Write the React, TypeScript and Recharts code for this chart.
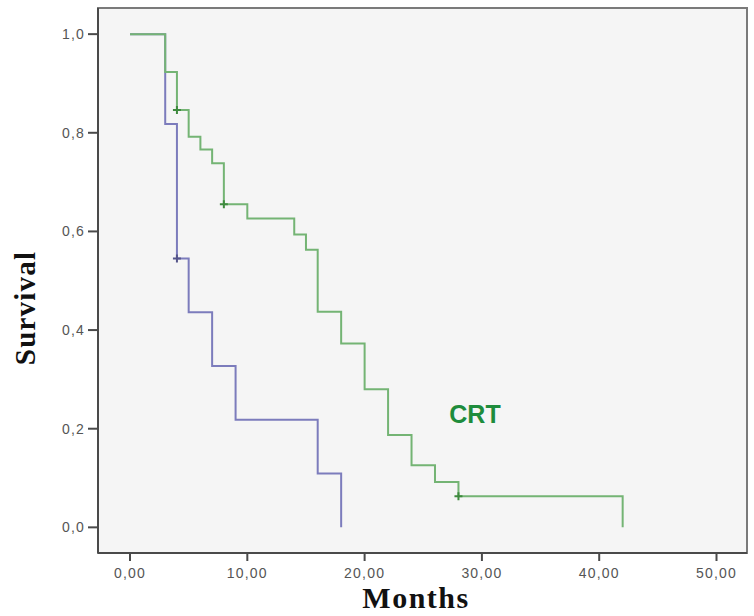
import { LineChart, Line, XAxis, YAxis, CartesianGrid, ReferenceArea } from 'recharts';

// Kaplan-Meier steps (months, survival, censored flag)
const rtMonths = [0, 3, 4, 5, 7, 9, 16, 18];
const rtSurvival = [1, 0.818, 0.545, 0.436, 0.327, 0.218, 0.109, 0];
const rtCensored = [false, false, true, false, false, false, false, false];

const crtMonths = [0, 3, 4, 5, 6, 7, 8, 10, 14, 15, 16, 18, 20, 22, 24, 26, 28, 42];
const crtSurvival = [1, 0.923, 0.846, 0.792, 0.766, 0.738, 0.655, 0.626, 0.594, 0.563, 0.437, 0.373, 0.28, 0.187, 0.126, 0.092, 0.063, 0];
const crtCensored = [false, false, true, false, false, false, true, false, false, false, false, false, false, false, false, false, true, false];

const xTicks = [0, 10, 20, 30, 40, 50];
const yTicks = [0, 0.2, 0.4, 0.6, 0.8, 1.0];

const xDomain = [-2.73, 52.6];
const yDomain = [-0.052, 1.053];

const rtData = rtMonths.map((t, i) => ({ t, s: rtSurvival[i], c: rtCensored[i] }));
const crtData = crtMonths.map((t, i) => ({ t, s: crtSurvival[i], c: crtCensored[i] }));

const axisColor = '#4a4a4a';
const tickStyle = { fill: '#555', fontSize: 14, fontFamily: 'Liberation Sans, Arial, sans-serif', letterSpacing: 1.2 };

const censorDot = (color: string) => (props: any) => {
  const { cx, cy, payload, index } = props;
  if (!payload || !payload.c) return <g key={`n-${index}`} />;
  return (
    <path
      key={`c-${index}`}
      d={`M${cx - 4},${cy} H${cx + 4} M${cx},${cy - 4} V${cy + 4}`}
      stroke={color}
      strokeWidth={2}
      fill="none"
    />
  );
};

export default function App() {
  return (
    <div style={{ width: 754, height: 616, background: '#fff' }}>
      <style>{'body{margin:0}'}</style>
      <LineChart width={754} height={616} margin={{ top: 8, right: 7, bottom: 0, left: 0 }}>
        <CartesianGrid fill="#f5f5f5" horizontal={false} vertical={false} />
        {/* frame around the plot area */}
        <ReferenceArea
          x1={xDomain[0]}
          x2={xDomain[1]}
          y1={yDomain[0]}
          y2={yDomain[1]}
          fill="none"
          fillOpacity={0}
          stroke="#7a7a7a"
          strokeWidth={2}
          ifOverflow="visible"
        />
        <XAxis
          type="number"
          dataKey="t"
          domain={xDomain}
          ticks={xTicks}
          allowDataOverflow
          height={63}
          tickSize={8}
          tickMargin={7}
          tick={tickStyle}
          tickFormatter={(v: number) => v.toFixed(2).replace('.', ',')}
          stroke={axisColor}
          strokeWidth={2}
        />
        <YAxis
          type="number"
          domain={yDomain}
          ticks={yTicks}
          allowDataOverflow
          width={98}
          tickSize={10}
          tickMargin={3}
          tick={tickStyle}
          tickFormatter={(v: number) => v.toFixed(1).replace('.', ',')}
          stroke={axisColor}
          strokeWidth={2}
        />
        <Line
          data={rtData}
          dataKey="s"
          type="stepAfter"
          stroke="#7c7cbc"
          strokeWidth={2}
          dot={censorDot('#55558a')}
          activeDot={false}
          isAnimationActive={false}
        />
        <Line
          data={crtData}
          dataKey="s"
          type="stepAfter"
          stroke="#74b474"
          strokeWidth={2}
          dot={censorDot('#3e8a3e')}
          activeDot={false}
          isAnimationActive={false}
        />
        <text x={475} y={423} textAnchor="middle" fill="#1e8c3c" fontSize={25} fontWeight="bold" fontFamily="Liberation Sans, Arial, sans-serif">
          CRT
        </text>
        <text x={416} y={608} textAnchor="middle" fill="#111" fontSize={30} fontWeight="bold" fontFamily="Liberation Serif, Times New Roman, serif" letterSpacing={1.5}>
          Months
        </text>
        <text
          x={35}
          y={308}
          textAnchor="middle"
          transform="rotate(-90 35 308)"
          fill="#111"
          fontSize={29}
          fontWeight="bold"
          fontFamily="Liberation Serif, Times New Roman, serif"
          letterSpacing={1.2}
        >
          Survival
        </text>
      </LineChart>
    </div>
  );
}
